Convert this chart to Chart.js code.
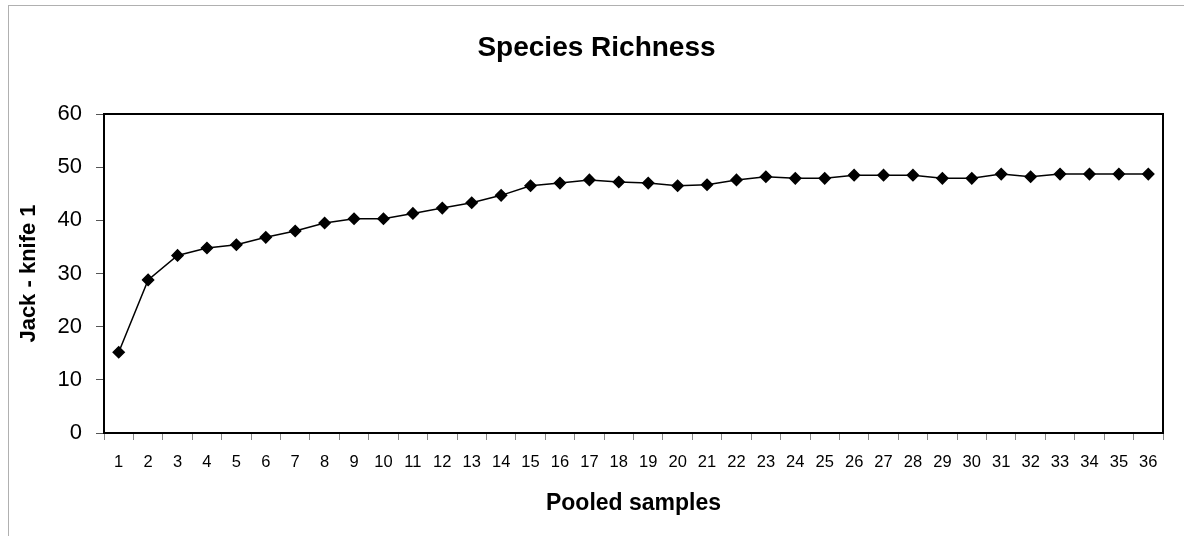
<!DOCTYPE html>
<html>
<head>
<meta charset="utf-8">
<script src="https://cdn.jsdelivr.net/npm/chart.js@4"></script>
<style>
  html, body { margin: 0; padding: 0; background: #fff; }
  #wrap { position: relative; width: 1184px; height: 536px; }
  #frame { position: absolute; left: 8px; top: 5px; width: 1200px; height: 600px;
           border-left: 1px solid #b0b0b0; border-top: 1px solid #b0b0b0; }
  canvas { position: absolute; left: 0; top: 0; }
</style>
</head>
<body>
<div id="wrap">
  <div id="frame"></div>
  <canvas id="myChart" width="1184" height="536"></canvas>
</div>
<script>
const samples = ["1","2","3","4","5","6","7","8","9","10","11","12","13","14","15","16","17","18",
  "19","20","21","22","23","24","25","26","27","28","29","30","31","32","33","34","35","36"];
const jackknife = [15.2, 28.8, 33.4, 34.8, 35.4, 36.8, 38.0, 39.5, 40.3, 40.3, 41.3, 42.3,
  43.3, 44.7, 46.5, 47.0, 47.6, 47.2, 47.0, 46.5, 46.7, 47.6, 48.2, 47.9, 47.9, 48.5,
  48.5, 48.5, 47.9, 47.9, 48.7, 48.2, 48.7, 48.7, 48.7, 48.7];

const font = "'Liberation Sans', Arial, sans-serif";

// frame around the plot area
const frameBox = {
  id: "frameBox",
  afterDraw(chart) {
    const a = chart.chartArea;
    const c = chart.ctx;
    c.save();
    c.strokeStyle = "#000";
    c.lineWidth = 2;
    c.strokeRect(a.left, a.top, a.right - a.left, a.bottom - a.top);
    c.restore();
  },
};

const ctx = document.getElementById("myChart").getContext("2d");
const myChart = new Chart(ctx, {
  type: "line",
  data: {
    labels: samples,
    datasets: [
      {
        label: "Jack - knife 1",
        data: jackknife,
        borderColor: "#000",
        borderWidth: 1.5,
        pointStyle: "rectRot",
        pointRadius: 5.5,
        pointBackgroundColor: "#000",
        pointBorderColor: "#000",
        tension: 0,
      },
    ],
  },
  plugins: [frameBox],
  options: {
    responsive: false,
    animation: false,
    layout: { padding: { left: 30, right: 21, top: 0, bottom: 0 } },
    plugins: {
      legend: { display: false },
      tooltip: { enabled: false },
      title: {
        display: true,
        text: "Species Richness",
        color: "#000",
        font: { family: font, size: 28, weight: "bold", lineHeight: 1.2 },
        padding: { top: 31, bottom: 49.4 },
      },
    },
    scales: {
      x: {
        offset: true,
        afterFit(scale) { scale.height = 103; },
        grid: { display: true, offset: true, drawOnChartArea: false, tickLength: 7, color: "#888" },
        border: { display: true, color: "#000", width: 2 },
        ticks: { color: "#000", padding: 13, maxRotation: 0, autoSkip: false,
                 font: { family: font, size: 16.5 } },
        title: { display: true, text: "Pooled samples", color: "#000",
                 font: { family: font, size: 23, weight: "bold", lineHeight: 1.2 },
                 padding: { top: 0, bottom: 19 } },
      },
      y: {
        min: 0,
        max: 60,
        afterFit(scale) { scale.width = 74; },
        grid: { display: true, drawOnChartArea: false, tickLength: 8, color: "#555" },
        border: { display: true, color: "#000", width: 2 },
        ticks: { stepSize: 10, color: "#000", padding: 14,
                 font: { family: font, size: 22 } },
        title: { display: true, text: "Jack - knife 1", color: "#000",
                 font: { family: font, size: 22, weight: "bold", lineHeight: 1.2 },
                 padding: { top: -14, bottom: -14 } },
      },
    },
  },
});
</script>
</body>
</html>
